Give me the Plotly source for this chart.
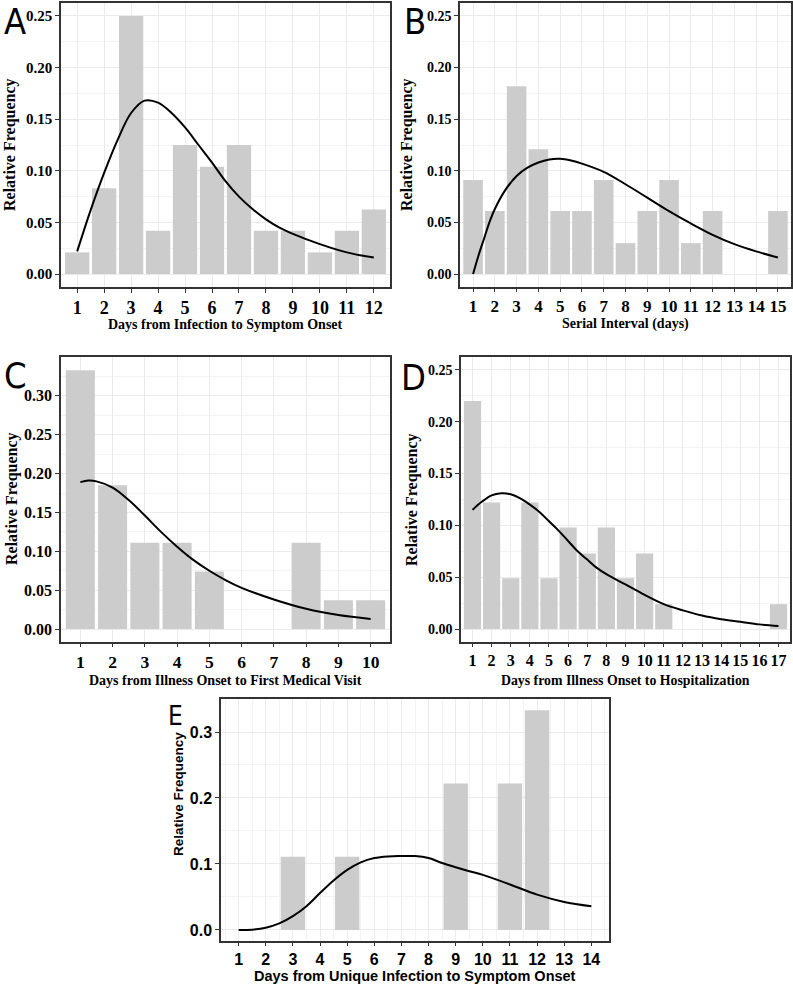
import plotly.graph_objects as go

W, H = 793, 986

# ---------------- data ----------------
days_A = list(range(1, 13))
freq_A = [0.021, 0.083, 0.250, 0.042, 0.125, 0.104, 0.125, 0.042, 0.042, 0.021, 0.042, 0.0625]
curve_x_A = [1, 1.5, 2, 2.5, 3, 3.5, 4, 4.5, 5, 5.5, 6, 6.5, 7, 7.5, 8, 8.5, 9, 10, 11, 12]
curve_y_A = [0.022, 0.062, 0.098, 0.130, 0.156, 0.168, 0.166, 0.156, 0.142, 0.125, 0.108, 0.090,
             0.075, 0.063, 0.053, 0.045, 0.039, 0.029, 0.021, 0.016]

days_B = list(range(1, 16))
freq_B = [0.091, 0.061, 0.182, 0.121, 0.061, 0.061, 0.091, 0.030, 0.061, 0.091, 0.030, 0.061, 0.0, 0.0, 0.061]
curve_x_B = [1, 1.25, 1.5, 1.75, 2, 2.5, 3, 3.5, 4, 4.5, 5, 5.5, 6, 7, 8, 9, 10, 11, 12, 13, 14, 15]
curve_y_B = [0.0, 0.018, 0.034, 0.050, 0.063, 0.082, 0.095, 0.103, 0.108, 0.111, 0.1117, 0.110,
             0.107, 0.099, 0.087, 0.074, 0.061, 0.049, 0.038, 0.029, 0.022, 0.016]

days_C = list(range(1, 11))
freq_C = [0.333, 0.185, 0.111, 0.111, 0.074, 0.0, 0.0, 0.111, 0.037, 0.037]
curve_x_C = [1, 1.25, 1.5, 2, 2.5, 3, 3.5, 4, 4.5, 5, 5.5, 6, 7, 8, 9, 10]
curve_y_C = [0.189, 0.191, 0.190, 0.182, 0.166, 0.146, 0.125, 0.106, 0.089, 0.075, 0.063, 0.053,
             0.038, 0.026, 0.018, 0.013]

days_D = list(range(1, 18))
freq_D = [0.220, 0.122, 0.049, 0.122, 0.049, 0.098, 0.073, 0.098, 0.049, 0.073, 0.024,
          0.0, 0.0, 0.0, 0.0, 0.0, 0.024]
curve_x_D = [1, 1.5, 2, 2.5, 3, 3.5, 4, 4.5, 5, 5.5, 6, 6.5, 7, 7.5, 8, 9, 10, 11, 12, 13, 14, 15, 16, 17]
curve_y_D = [0.115, 0.123, 0.129, 0.131, 0.130, 0.126, 0.120, 0.113, 0.104, 0.095, 0.085, 0.075,
             0.067, 0.059, 0.053, 0.043, 0.033, 0.024, 0.018, 0.013, 0.0095, 0.007, 0.0045, 0.003]

days_E = [3, 5, 9, 11, 12]
freq_E = [0.111, 0.111, 0.222, 0.222, 0.333]
curve_x_E = [1, 1.5, 2, 2.5, 3, 3.5, 4, 4.5, 5, 5.5, 6, 6.5, 7, 7.5, 8, 8.5, 9, 9.5, 10, 11, 12, 13, 14]
curve_y_E = [0.0, 0.0005, 0.0035, 0.010, 0.021, 0.036, 0.056, 0.075, 0.091, 0.1025, 0.109, 0.1115,
             0.112, 0.112, 0.109, 0.1015, 0.095, 0.089, 0.0835, 0.069, 0.0535, 0.0425, 0.036]

titles_x = ["Days from Infection to Symptom Onset", "Serial Interval (days)",
            "Days from Illness Onset to First Medical Visit", "Days from Illness Onset to Hospitalization",
            "Days from Unique Infection to Symptom Onset"]
y_title = "Relative Frequency"
letters = ["A", "B", "C", "D", "E"]

yticks_AB = [0.00, 0.05, 0.10, 0.15, 0.20, 0.25]
yticks_C = [0.00, 0.05, 0.10, 0.15, 0.20, 0.25, 0.30]
yticks_E = [0.0, 0.1, 0.2, 0.3]

# ---------------- layout helpers ----------------
def px_x(p):
    return p / W

def px_y(p):
    return 1 - p / H

SERIF = "Liberation Serif"
SANS = "Liberation Sans"
LETTER = "Liberation Sans Narrow, DejaVu Sans Condensed, sans-serif"
BAR = "#cccccc"
FRAME = "#333333"
GRID = "#ebebeb"
MINOR = "#f4f4f4"

panels = [
    dict(d=days_A, f=freq_A, cx=curve_x_A, cy=curve_y_A, xd=(61, 390), yd=(3, 287),
         xr=[0.4, 12.6], yr=[-0.0125, 0.2625], yt=yticks_AB, fmt="%.2f", font=SERIF, xs=18, ys=15, tl=4),
    dict(d=days_B, f=freq_B, cx=curve_x_B, cy=curve_y_B, xd=(460, 791), yd=(3, 287),
         xr=[0.4, 15.6], yr=[-0.0125, 0.2625], yt=yticks_AB, fmt="%.2f", font=SERIF, xs=17, ys=14, tl=3),
    dict(d=days_C, f=freq_C, cx=curve_x_C, cy=curve_y_C, xd=(61, 390), yd=(357, 642),
         xr=[0.4, 10.6], yr=[-0.0167, 0.35], yt=yticks_C, fmt="%.2f", font=SERIF, xs=17.5, ys=16, tl=3),
    dict(d=days_D, f=freq_D, cx=curve_x_D, cy=curve_y_D, xd=(461, 790), yd=(357, 642),
         xr=[0.4, 17.6], yr=[-0.0125, 0.2625], yt=yticks_AB, fmt="%.2f", font=SERIF, xs=16, ys=14, tl=3),
    dict(d=days_E, f=freq_E, cx=curve_x_E, cy=curve_y_E, xd=(221, 609), yd=(699, 941),
         xr=[0.35, 14.65], yr=[-0.0167, 0.35], yt=yticks_E, fmt="%.1f", font=SANS, xs=16, ys=16, tl=3),
]

fig = go.Figure()
layout = dict(width=W, height=H, margin=dict(l=0, r=0, t=0, b=0, autoexpand=False),
              paper_bgcolor="white", plot_bgcolor="white", showlegend=False,
              bargap=0.1)

for i, p in enumerate(panels):
    n = "" if i == 0 else str(i + 1)
    xa, ya = "x" + n, "y" + n
    fig.add_trace(go.Bar(x=p["d"], y=p["f"], width=0.9, marker=dict(color=BAR, line=dict(width=0)),
                         xaxis=xa, yaxis=ya, hoverinfo="skip"))
    fig.add_trace(go.Scatter(x=p["cx"], y=p["cy"], mode="lines", line=dict(color="black", width=2, shape="spline"),
                             xaxis=xa, yaxis=ya, hoverinfo="skip"))
    is_e = (i == 4)
    xmax = max(p["d"]) if not is_e else 14
    layout["xaxis" + n] = dict(
        domain=[px_x(p["xd"][0]), px_x(p["xd"][1])], anchor=ya, range=p["xr"],
        tickmode="array", tickvals=list(range(1, xmax + 1)),
        ticktext=[str(v) for v in range(1, xmax + 1)], tickangle=0, automargin=False,
        showgrid=True, gridcolor=GRID, gridwidth=1, zeroline=False,
        showline=True, linecolor=FRAME, linewidth=1.5, mirror=True,
        ticks="outside", ticklen=p["tl"], tickcolor=FRAME, tickwidth=1,
        tickfont=dict(family=p["font"], size=p["xs"], color="black", weight="bold"),
        fixedrange=True,
    )
    if is_e:
        layout["xaxis" + n]["minor"] = dict(dtick=0.5, tick0=0.5, showgrid=True, gridcolor=MINOR, ticks="")
    yt = p["yt"]
    layout["yaxis" + n] = dict(
        domain=[px_y(p["yd"][1]), px_y(p["yd"][0])], anchor=xa, range=p["yr"],
        tickmode="array", tickvals=yt, ticktext=[p["fmt"] % v for v in yt], automargin=False,
        showgrid=True, gridcolor=GRID, gridwidth=1, zeroline=False,
        showline=True, linecolor=FRAME, linewidth=1.5, mirror=True,
        ticks="outside", ticklen=4, tickcolor=FRAME, tickwidth=1,
        tickfont=dict(family=p["font"], size=p["ys"], color="black", weight="bold"),
        minor=dict(tickvals=[(yt[k] + yt[k + 1]) / 2 for k in range(len(yt) - 1)] + [yt[-1] + (yt[1] - yt[0]) / 2],
                   showgrid=True, gridcolor=MINOR, ticks=""),
        fixedrange=True,
    )

fig.update_layout(**layout)

ann = []
xt_pos = [(225, 324, 14), (625, 324, 14), (225, 680, 14), (625, 680, 13.8), (415, 976, 14.5)]
for i, (cx, cy, s) in enumerate(xt_pos):
    fam = SANS if i == 4 else SERIF
    ann.append(dict(text=titles_x[i], x=px_x(cx), y=px_y(cy), xref="paper", yref="paper",
                    xanchor="center", yanchor="middle", showarrow=False,
                    font=dict(family=fam, size=s, color="black", weight="bold")))
yt_pos = [(10, 145, 16), (407, 145, 16), (12, 499, 16), (412, 500, 16), (178, 794, 13.5)]
for i, (cx, cy, s) in enumerate(yt_pos):
    fam = SANS if i == 4 else SERIF
    ann.append(dict(text=y_title, x=px_x(cx), y=px_y(cy), xref="paper", yref="paper",
                    xanchor="center", yanchor="middle", showarrow=False, textangle=-90,
                    font=dict(family=fam, size=s, color="black", weight="bold")))
lt_pos = [(15, 22, 36), (415, 22, 36), (15, 376, 36), (414, 377, 36), (175, 716, 26)]
for i, (cx, cy, s) in enumerate(lt_pos):
    ann.append(dict(text=letters[i], x=px_x(cx), y=px_y(cy), xref="paper", yref="paper",
                    xanchor="center", yanchor="middle", showarrow=False,
                    font=dict(family=LETTER, size=s, color="black")))

fig.update_layout(annotations=ann)
fig.write_html("out.html", config={"displayModeBar": False},
               post_script="document.body.style.margin='0';document.body.style.overflow='hidden';")
